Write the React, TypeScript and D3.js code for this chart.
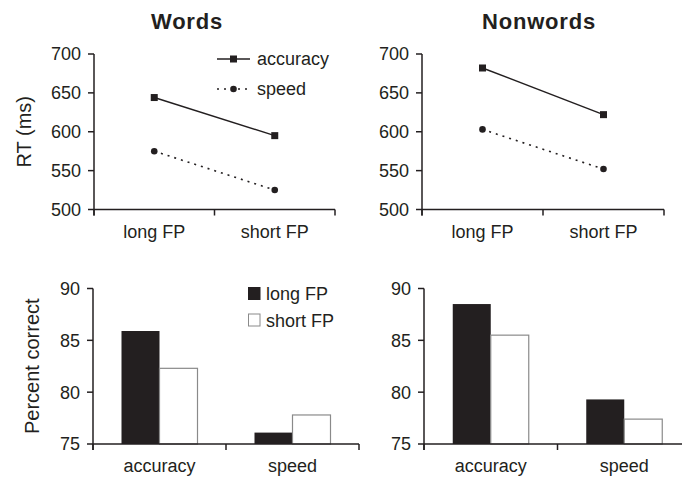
import * as d3 from "d3";

// RT panels (ms)
const fpLevels = ["long FP", "short FP"];
const wordsAccuracyRT = [644, 595];
const wordsSpeedRT = [575, 525];
const nonwordsAccuracyRT = [682, 622];
const nonwordsSpeedRT = [603, 552];
const rtTicks = [500, 550, 600, 650, 700];

// Percent correct panels
const conditions = ["accuracy", "speed"];
const wordsLongPC = [85.9, 76.1];
const wordsShortPC = [82.3, 77.8];
const nonwordsLongPC = [88.5, 79.3];
const nonwordsShortPC = [85.5, 77.4];
const pcTicks = [75, 80, 85, 90];

const INK = "#231f20";
const FONT = "Liberation Sans, Arial, Helvetica, sans-serif";
const FS = 18;

function LinePanel({ x0, x1, title, titleX, acc, spd, legend, yLabel }: any) {
  const x = d3.scaleBand<string>().domain(fpLevels).range([x0, x1]);
  const y = d3.scaleLinear().domain([500, 700]).range([209.5, 54]);
  const cx = (i: number) => (x(fpLevels[i]) as number) + x.bandwidth() / 2;
  const line = d3
    .line<number>()
    .x((_, i) => cx(i))
    .y((d) => y(d));
  const boundaries = [x0, ...fpLevels.map((c) => (x(c) as number) + x.bandwidth())];
  return (
    <g>
      <text x={titleX} y={29} textAnchor="middle" fontWeight="bold" fontSize={22} letterSpacing={0.8}>
        {title}
      </text>
      {yLabel && (
        <text transform={`translate(31,${(y(500) + y(700)) / 2}) rotate(-90)`} textAnchor="middle" fontSize={20}>
          {yLabel}
        </text>
      )}
      <line x1={x0} x2={x0} y1={y(700)} y2={y(500) + 6} stroke={INK} strokeWidth={1.5} />
      <line x1={x0} x2={x1} y1={y(500)} y2={y(500)} stroke={INK} strokeWidth={1.5} />
      {rtTicks.map((t) => (
        <g key={t}>
          <line x1={x0 - 6} x2={x0} y1={y(t)} y2={y(t)} stroke={INK} strokeWidth={1.5} />
          <text x={x0 - 13} y={y(t)} dy="0.36em" textAnchor="end" fontSize={FS}>
            {t}
          </text>
        </g>
      ))}
      {boundaries.map((b, i) => (
        <line key={i} x1={b} x2={b} y1={y(500)} y2={y(500) + 6} stroke={INK} strokeWidth={1.5} />
      ))}
      {fpLevels.map((c, i) => (
        <text key={c} x={cx(i)} y={y(500) + 28} textAnchor="middle" fontSize={FS}>
          {c}
        </text>
      ))}
      <path d={line(acc) as string} fill="none" stroke={INK} strokeWidth={1.4} />
      <path d={line(spd) as string} fill="none" stroke={INK} strokeWidth={1.6} strokeDasharray="2,5" />
      {acc.map((v: number, i: number) => (
        <rect key={i} x={cx(i) - 3.5} y={y(v) - 3.5} width={7} height={7} fill={INK} />
      ))}
      {spd.map((v: number, i: number) => (
        <circle key={i} cx={cx(i)} cy={y(v)} r={3.3} fill={INK} />
      ))}
      {legend && (
        <g>
          <line x1={217} x2={250} y1={59} y2={59} stroke={INK} strokeWidth={1.4} />
          <rect x={230} y={55.5} width={7} height={7} fill={INK} />
          <text x={257} y={59} dy="0.36em" fontSize={FS}>accuracy</text>
          <line x1={217} x2={250} y1={89} y2={89} stroke={INK} strokeWidth={1.6} strokeDasharray="2,5" />
          <circle cx={233.5} cy={89} r={3.3} fill={INK} />
          <text x={257} y={89} dy="0.36em" fontSize={FS}>speed</text>
        </g>
      )}
    </g>
  );
}

function BarPanel({ x0, x1, longVals, shortVals, legend, yLabel }: any) {
  const x = d3.scaleBand<string>().domain(conditions).range([x0, x1]);
  const y = d3.scaleLinear().domain([75, 90]).range([444, 288.5]);
  const inner = d3.scaleBand<string>().domain(fpLevels).range([0, 76]);
  const boundaries = [x0, ...conditions.map((c) => (x(c) as number) + x.bandwidth())];
  const groupStart = (c: string) => (x(c) as number) + (x.bandwidth() - 76) / 2;
  return (
    <g>
      {yLabel && (
        <text transform={`translate(39,${(y(75) + y(90)) / 2}) rotate(-90)`} textAnchor="middle" fontSize={20}>
          {yLabel}
        </text>
      )}
      {conditions.map((c, i) => (
        <g key={c}>
          <rect
            x={groupStart(c) + (inner(fpLevels[0]) as number)}
            y={y(longVals[i])}
            width={inner.bandwidth()}
            height={y(75) - y(longVals[i])}
            fill={INK}
          />
          <rect
            x={groupStart(c) + (inner(fpLevels[1]) as number)}
            y={y(shortVals[i])}
            width={inner.bandwidth()}
            height={y(75) - y(shortVals[i])}
            fill="#fff"
            stroke="#8a8a8a"
            strokeWidth={1.2}
          />
        </g>
      ))}
      <line x1={x0} x2={x0} y1={y(90)} y2={y(75) + 6} stroke={INK} strokeWidth={1.5} />
      <line x1={x0} x2={x1} y1={y(75)} y2={y(75)} stroke={INK} strokeWidth={1.5} />
      {pcTicks.map((t) => (
        <g key={t}>
          <line x1={x0 - 6} x2={x0} y1={y(t)} y2={y(t)} stroke={INK} strokeWidth={1.5} />
          <text x={x0 - 13} y={y(t)} dy="0.36em" textAnchor="end" fontSize={FS}>
            {t}
          </text>
        </g>
      ))}
      {boundaries.map((b, i) => (
        <line key={i} x1={b} x2={b} y1={y(75)} y2={y(75) + 6} stroke={INK} strokeWidth={1.5} />
      ))}
      {conditions.map((c) => (
        <text key={c} x={(x(c) as number) + x.bandwidth() / 2} y={y(75) + 28} textAnchor="middle" fontSize={FS}>
          {c}
        </text>
      ))}
      {legend && (
        <g>
          <rect x={248} y={287} width={12.5} height={13} fill={INK} />
          <text x={266} y={300} fontSize={FS}>long FP</text>
          <rect x={248.5} y={314} width={11.5} height={12} fill="#fff" stroke="#8a8a8a" strokeWidth={1} />
          <text x={266} y={327} fontSize={FS}>short FP</text>
        </g>
      )}
    </g>
  );
}

export default function App() {
  return (
    <svg
      width={682}
      height={478}
      style={{ position: "absolute", left: 0, top: 0, background: "#fff" }}
      fontFamily={FONT}
      fill={INK}
    >
      <rect width={682} height={478} fill="#fff" />
      <LinePanel x0={94} x1={335} title="Words" titleX={187} acc={wordsAccuracyRT} spd={wordsSpeedRT} legend yLabel="RT (ms)" />
      <LinePanel x0={422} x1={664} title="Nonwords" titleX={539} acc={nonwordsAccuracyRT} spd={nonwordsSpeedRT} />
      <BarPanel x0={93} x1={359} longVals={wordsLongPC} shortVals={wordsShortPC} legend yLabel="Percent correct" />
      <BarPanel x0={424} x1={691} longVals={nonwordsLongPC} shortVals={nonwordsShortPC} />
    </svg>
  );
}
